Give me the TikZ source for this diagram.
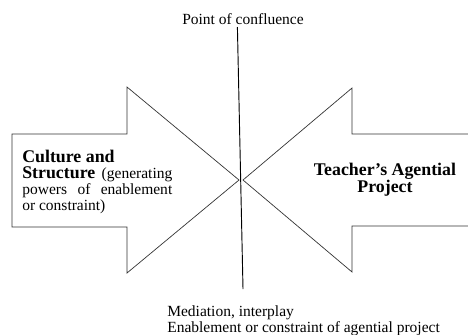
\documentclass[tikz,border=0pt]{standalone}
\usepackage{fontspec}
\setmainfont{Liberation Serif}
\begin{document}
\begin{tikzpicture}[x=0.645pt, y=-0.645pt,
    arrowline/.style={draw=black!80, line width=0.45pt},
    lbl/.style={inner sep=0pt, font=\fontsize{10}{10.5}\selectfont},
    boldlbl/.style={inner sep=0pt, font=\fontsize{11.5}{11}\selectfont\bfseries}]
    \useasboundingbox (0, 0) rectangle (468, 334);
    % the two arrows
    \draw[arrowline] (12, 134) -- (127, 134) -- (127, 87) -- (239, 180) -- (127, 273) -- (127, 227) -- (12, 227) -- cycle;
    \draw[arrowline] (468, 134) -- (352, 134) -- (352, 88) -- (243, 180) -- (352, 272) -- (352, 226) -- (468, 226);
    % labels
    \node[lbl] (conf) at (243, 19) {Point of confluence};
    \node[lbl, anchor=west, text width=96.75pt, align=justify] (culture) at (22, 182)
        {{\fontsize{11.5}{11.5}\selectfont\bfseries Culture and\\ Structure} (generating\linebreak powers of enablement\linebreak or constraint)};
    \node[boldlbl, align=center] (agent) at (385, 180) {Teacher’s Agential\\Project};
    \node[lbl, anchor=north west, align=left] (med) at (167, 305) {Mediation, interplay\\Enablement or constraint of agential project};
    % line through the point of confluence
    \coordinate (ltop) at (237.4, 27);
    \coordinate (lbot) at (243, 289);
    \draw[line width=0.6pt] (ltop) -- (lbot);
\end{tikzpicture}
\end{document}
